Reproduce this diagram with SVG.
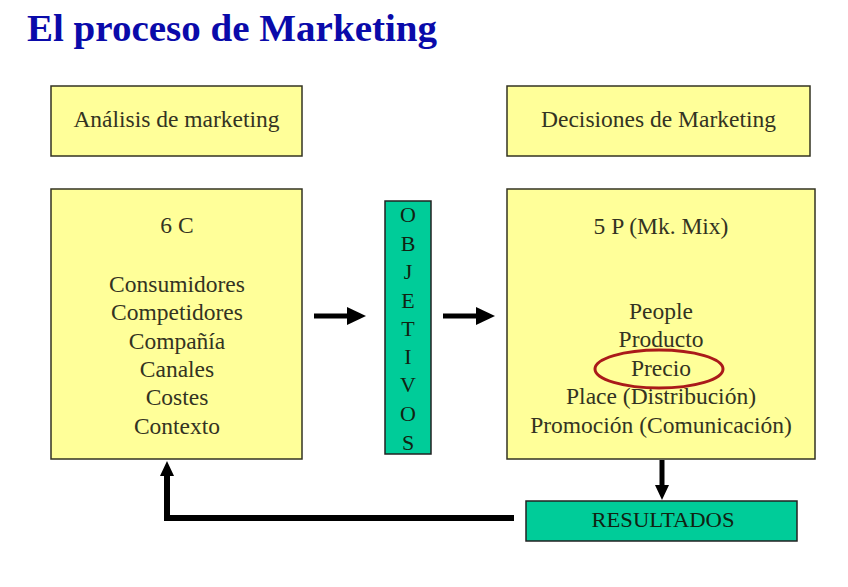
<svg xmlns="http://www.w3.org/2000/svg" width="848" height="587" viewBox="0 0 848 587">
<defs>
<style>
.box{fill:#FFFF99;stroke:#333322;stroke-width:1.5}
.grn{fill:#00CC99;stroke:#222222;stroke-width:1.5}
.c{fill:none;stroke:#000;stroke-linejoin:miter}
</style>
<marker id="ab" markerUnits="userSpaceOnUse" markerWidth="20" markerHeight="18" refX="0" refY="9" orient="auto"><path d="M0,0 L19,9 L0,18 z" fill="#000"/></marker>
<marker id="as" markerUnits="userSpaceOnUse" markerWidth="16" markerHeight="14" refX="0" refY="7" orient="auto"><path d="M0,0 L15,7 L0,14 z" fill="#000"/></marker>
</defs>
<rect width="848" height="587" fill="#fff"/>
<text x="27" y="41" font-family="Liberation Serif" font-weight="bold" font-size="38" fill="#0A0AAA" textLength="410" lengthAdjust="spacingAndGlyphs">El proceso de Marketing</text>

<g id="analisis">
<rect class="box" x="51" y="86" width="251" height="70"/>
<text font-family="Liberation Serif" font-size="23.5" fill="#333322" text-anchor="middle" x="176.5" y="127">Análisis de marketing</text>
</g>
<g id="decisiones">
<rect class="box" x="507" y="86" width="303" height="70"/>
<text font-family="Liberation Serif" font-size="23.5" fill="#333322" text-anchor="middle" x="658.5" y="127">Decisiones de Marketing</text>
</g>
<g id="seis-c" font-family="Liberation Serif" font-size="23.5" fill="#333322" text-anchor="middle">
<rect class="box" x="51" y="189" width="251" height="270"/>
<text font-family="Liberation Serif" x="177" y="233">6 C</text>
<text font-family="Liberation Serif" x="177" y="292">Consumidores</text>
<text font-family="Liberation Serif" x="177" y="320">Competidores</text>
<text font-family="Liberation Serif" x="177" y="349">Compañía</text>
<text font-family="Liberation Serif" x="177" y="377">Canales</text>
<text font-family="Liberation Serif" x="177" y="405">Costes</text>
<text font-family="Liberation Serif" x="177" y="434">Contexto</text>
</g>
<g id="objetivos" font-family="Liberation Serif" font-size="22" fill="#112211" text-anchor="middle">
<rect class="grn" x="385" y="201" width="46" height="253"/>
<text font-family="Liberation Serif" x="408" y="222">O</text>
<text font-family="Liberation Serif" x="408" y="251">B</text>
<text font-family="Liberation Serif" x="408" y="279">J</text>
<text font-family="Liberation Serif" x="408" y="308">E</text>
<text font-family="Liberation Serif" x="408" y="336">T</text>
<text font-family="Liberation Serif" x="408" y="364">I</text>
<text font-family="Liberation Serif" x="408" y="392">V</text>
<text font-family="Liberation Serif" x="408" y="421">O</text>
<text font-family="Liberation Serif" x="408" y="450">S</text>
</g>
<g id="cinco-p" font-family="Liberation Serif" font-size="23.5" fill="#333322" text-anchor="middle">
<rect class="box" x="507" y="189" width="308" height="270"/>
<text font-family="Liberation Serif" x="661" y="234">5 P (Mk. Mix)</text>
<text font-family="Liberation Serif" x="661" y="319">People</text>
<text font-family="Liberation Serif" x="661" y="347">Producto</text>
<text font-family="Liberation Serif" x="661" y="376">Precio</text>
<text font-family="Liberation Serif" x="661" y="404">Place (Distribución)</text>
<text font-family="Liberation Serif" x="661" y="433">Promoción (Comunicación)</text>
<ellipse cx="659" cy="369" rx="64" ry="19" fill="none" stroke="#AA1A1A" stroke-width="3"/>
</g>
<g id="resultados">
<rect class="grn" x="526" y="501" width="271" height="40"/>
<text font-family="Liberation Serif" font-size="21" fill="#112211" text-anchor="middle" x="663" y="527" textLength="143" lengthAdjust="spacingAndGlyphs">RESULTADOS</text>
</g>

<g id="connectors">
<line class="c" x1="314" y1="316" x2="347" y2="316" stroke-width="5" marker-end="url(#ab)"/>
<line class="c" x1="443" y1="316" x2="476" y2="316" stroke-width="5" marker-end="url(#ab)"/>
<line class="c" x1="662" y1="460" x2="662" y2="485" stroke-width="5" marker-end="url(#as)"/>
<path class="c" d="M514,518 H167 V476" stroke-width="6" marker-end="url(#as)"/>
</g>
</svg>
